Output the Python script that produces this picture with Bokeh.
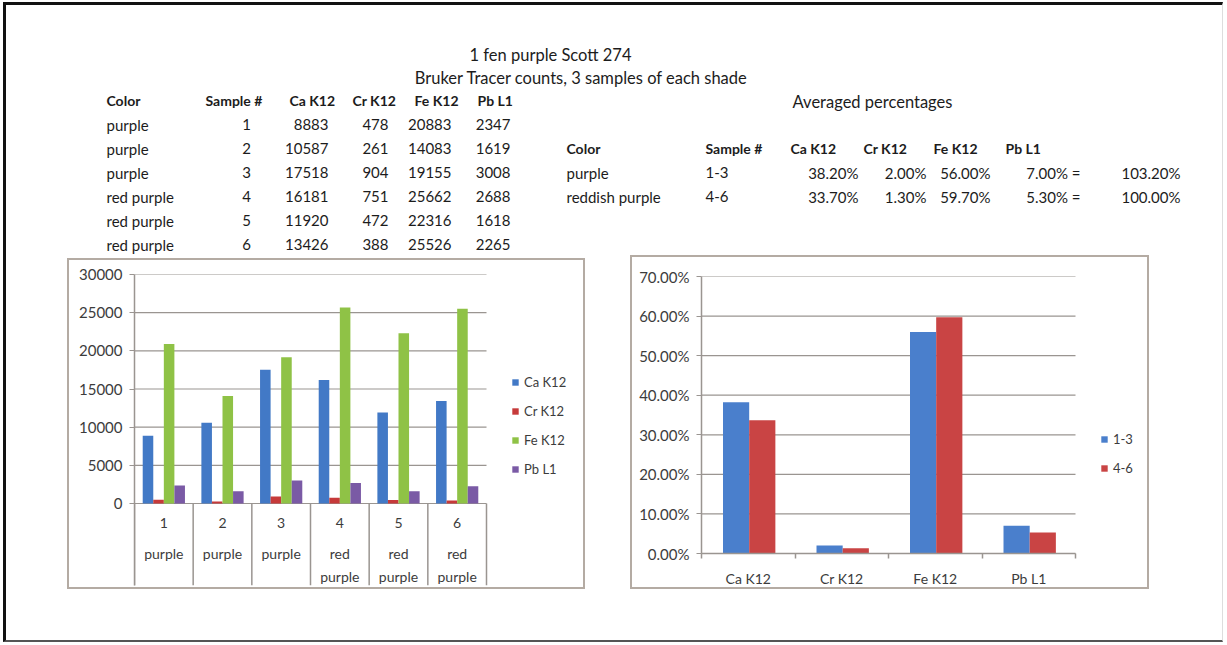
from bokeh.plotting import figure
from bokeh.models import (Range1d, FixedTicker, NumeralTickFormatter,
                          Legend, LegendItem, ColumnDataSource, Spacer)
from bokeh.layouts import column, row
from bokeh.transform import dodge
from bokeh.core.properties import value
from bokeh.embed import file_html
from bokeh.resources import INLINE

# ---------------- data ----------------
chart_title = "1 fen purple Scott 274"
chart_subtitle = "Bruker Tracer counts, 3 samples of each shade"
elements = ["Ca K12", "Cr K12", "Fe K12", "Pb L1"]
samples = ["1", "2", "3", "4", "5", "6"]
sample_colors = ["purple", "purple", "purple", "red purple", "red purple", "red purple"]
ca_counts = [8883, 10587, 17518, 16181, 11920, 13426]
cr_counts = [478, 261, 904, 751, 472, 388]
fe_counts = [20883, 14083, 19155, 25662, 22316, 25526]
pb_counts = [2347, 1619, 3008, 2688, 1618, 2265]
count_ticks = [0, 5000, 10000, 15000, 20000, 25000, 30000]

avg_title = "Averaged percentages"
avg_colors = ["purple", "reddish purple"]
avg_groups = ["1-3", "4-6"]
avg_pct_13 = [38.20, 2.00, 56.00, 7.00]
avg_pct_46 = [33.70, 1.30, 59.70, 5.30]
avg_totals = [103.20, 100.00]
pct_ticks = [0.0, 0.1, 0.2, 0.3, 0.4, 0.5, 0.6, 0.7]

# ---------------- style ----------------
FONT = "Lato"
TXT = "#1c1c1c"
AX = "#3c3c3c"
GRID = "#9a9591"
BOX = "#b4aba3"
series_colors = ["#4279c6", "#c63a3a", "#8fc246", "#7a5aa5"]
avg_series_colors = ["#4a7fcc", "#c94444"]
TICK_FS = "15px"

# ---------------- top (tables) ----------------
OX, OY = 6, 5
TW, TH = 1216, 250
top = figure(width=TW, height=TH, x_range=Range1d(0, TW), y_range=Range1d(TH, 0),
             x_axis_type=None, y_axis_type=None, toolbar_location=None,
             output_backend="svg", min_border=0, outline_line_color=None)


def put(xs, ys, texts, align="left", bold=False, size="15px"):
    top.text(x=[x - OX for x in xs], y=[y - OY for y in ys], text=texts,
             text_align=align, text_baseline="middle", text_font=value(FONT),
             text_font_size=size, text_font_style="bold" if bold else "normal",
             text_color=TXT)


put([550], [54], [chart_title], align="center", size="16.5px")
put([581], [77], [chart_subtitle], align="center", size="16.5px")

# left table
row_y = [124 + 24 * i for i in range(len(samples))]
put([106], [100], ["Color"], bold=True, size="14px")
put([205], [100], ["Sample #"], bold=True, size="14px")
put([289, 352, 414, 477], [100] * 4, elements, bold=True, size="14px")
put([106] * len(samples), row_y, sample_colors)
put([246] * len(samples), row_y, samples, align="center")
for rx, vals in zip([328, 388, 451, 510], [ca_counts, cr_counts, fe_counts, pb_counts]):
    put([rx] * len(vals), row_y, [str(v) for v in vals], align="right")

# right table
put([872], [101], [avg_title], align="center", size="16.5px")
put([566], [148], ["Color"], bold=True, size="14px")
put([705], [148], ["Sample #"], bold=True, size="14px")
put([790, 863, 933, 1005], [148] * 4, elements, bold=True, size="14px")
ry = [172, 196]
put([566, 566], ry, avg_colors)
put([705, 705], ry, avg_groups)
for i, rx in enumerate([858, 926, 990]):
    put([rx, rx], ry, [f"{avg_pct_13[i]:.2f}%", f"{avg_pct_46[i]:.2f}%"], align="right")
put([1080, 1080], ry, [f"{avg_pct_13[3]:.2f}% =", f"{avg_pct_46[3]:.2f}% ="], align="right")
put([1180, 1180], ry, [f"{t:.2f}%" for t in avg_totals], align="right")


def style_yaxis(ax, ticks, fmt):
    ax.ticker = FixedTicker(ticks=ticks)
    ax.formatter = NumeralTickFormatter(format=fmt)
    ax.major_tick_out = 5
    ax.major_tick_in = 0
    ax.minor_tick_line_color = None
    ax.axis_line_color = GRID
    ax.axis_line_width = 1.5
    ax.major_tick_line_color = GRID
    ax.major_label_standoff = 7
    ax.major_label_text_font = FONT
    ax.major_label_text_font_size = TICK_FS
    ax.major_label_text_color = AX


# ---------------- left chart (counts) ----------------
n_s = len(samples)
CAT_W_L, FW_L = 352, 451           # px used by the categories / whole frame width
ext = count_ticks[-1] * 82 / 229   # room under the zero line for the category table
lp = figure(width=518, height=331,
            x_range=Range1d(0, n_s * FW_L / CAT_W_L),
            y_range=Range1d(-ext, count_ticks[-1]),
            x_axis_location=None, toolbar_location=None, output_backend="svg",
            min_border_left=65, min_border_right=2, min_border_top=14,
            min_border_bottom=6, outline_line_color=None,
            styles={"border": f"2px solid {BOX}"})
lp.grid.visible = False
style_yaxis(lp.yaxis[0], count_ticks, "0")

lp.segment(x0=[0] * len(count_ticks), x1=[n_s] * len(count_ticks), y0=count_ticks,
           y1=count_ticks, line_color=GRID, line_width=1.2, level="underlay")

color_words = [c.split(" ") for c in sample_colors]
src = ColumnDataSource(dict(xc=[i + 0.5 for i in range(n_s)], sample=samples,
                            line1=[w[0] for w in color_words],
                            line2=[w[1] if len(w) > 1 else "" for w in color_words],
                            ca=ca_counts, cr=cr_counts, fe=fe_counts, pb=pb_counts))
offsets = [-0.27, -0.09, 0.09, 0.27]
rends = []
for k, off, col in zip(["ca", "cr", "fe", "pb"], offsets, series_colors):
    rends.append(lp.vbar(x=dodge("xc", off), top=k, width=0.18,
                         source=src, fill_color=col, line_color=None))

bounds = list(range(n_s + 1))
lp.segment(x0=bounds, y0=[0] * len(bounds), x1=bounds, y1=[-ext] * len(bounds),
           line_color=GRID, line_width=1.5)
for field, yoff in [("sample", 19), ("line1", 50), ("line2", 73)]:
    lp.text(x="xc", y=0, text=field, source=src, y_offset=yoff,
            text_align="center", text_baseline="middle", text_font=value(FONT),
            text_font_size="14px", text_color=AX)

leg = Legend(items=[LegendItem(label=e, renderers=[r]) for e, r in zip(elements, rends)],
             location=(CAT_W_L + 25, 106), glyph_width=8, glyph_height=8, label_height=20,
             spacing=9, padding=0, margin=0, border_line_color=None,
             background_fill_alpha=0, label_standoff=5, label_text_font=FONT,
             label_text_font_size="13px", label_text_color=AX)
lp.add_layout(leg)

# ---------------- right chart (averaged percentages) ----------------
n_e = len(elements)
CAT_W_R, FW_R, FH_R = 374, 448, 277
rp = figure(width=519, height=334,
            x_range=Range1d(0, n_e * FW_R / CAT_W_R),
            y_range=Range1d(pct_ticks[0], pct_ticks[-1]),
            toolbar_location=None, output_backend="svg",
            min_border_left=69, min_border_right=2, min_border_top=19,
            min_border_bottom=38, outline_line_color=None,
            styles={"border": f"2px solid {BOX}"})
rp.grid.visible = False
style_yaxis(rp.yaxis[0], pct_ticks, "0.00%")
rp.segment(x0=[0] * len(pct_ticks), x1=[n_e] * len(pct_ticks), y0=pct_ticks,
           y1=pct_ticks, line_color=GRID, line_width=1.2, level="underlay")

centers_r = [i + 0.5 for i in range(n_e)]
rx_ax = rp.xaxis[0]
rx_ax.ticker = FixedTicker(ticks=centers_r, minor_ticks=list(range(n_e + 1)))
rx_ax.major_label_overrides = {c: e for c, e in zip(centers_r, elements)}
rx_ax.bounds = (0, n_e)
rx_ax.major_tick_out = 0
rx_ax.major_tick_in = 0
rx_ax.minor_tick_out = 5
rx_ax.minor_tick_in = 0
rx_ax.minor_tick_line_color = GRID
rx_ax.minor_tick_line_width = 1.5
rx_ax.axis_line_color = GRID
rx_ax.axis_line_width = 1.5
rx_ax.major_label_standoff = 11
rx_ax.major_label_text_font = FONT
rx_ax.major_label_text_font_size = "14px"
rx_ax.major_label_text_color = AX

rsrc = ColumnDataSource(dict(xc=centers_r,
                             g13=[v / 100 for v in avg_pct_13],
                             g46=[v / 100 for v in avg_pct_46]))
r13 = rp.vbar(x=dodge("xc", -0.13), top="g13", width=0.28,
              source=rsrc, fill_color=avg_series_colors[0], line_color=None)
r46 = rp.vbar(x=dodge("xc", 0.15), top="g46", width=0.28,
              source=rsrc, fill_color=avg_series_colors[1], line_color=None)

rleg = Legend(items=[LegendItem(label=g, renderers=[r]) for g, r in zip(avg_groups, [r13, r46])],
              location=(CAT_W_R + 25, 75), glyph_width=8, glyph_height=8, label_height=20,
              spacing=9, padding=0, margin=0, border_line_color=None,
              background_fill_alpha=0, label_standoff=5, label_text_font=FONT,
              label_text_font_size="13px", label_text_color=AX)
rp.add_layout(rleg)

# ---------------- page layout ----------------
lcol = column(Spacer(width=522, height=3), lp)
bottom = row(Spacer(width=61, height=338), lcol, Spacer(width=41, height=338), rp,
             Spacer(width=TW - 61 - 522 - 41 - 523, height=338))
page = column(top, bottom, Spacer(width=TW, height=47),
              styles={"border-left": "3px solid #111", "border-top": "3px solid #111",
                      "border-bottom": "2px solid #555", "border-right": "1px solid #ddd",
                      "margin-left": "3px", "margin-top": "2px"})

open("out.html", "w").write(file_html(page, INLINE))
